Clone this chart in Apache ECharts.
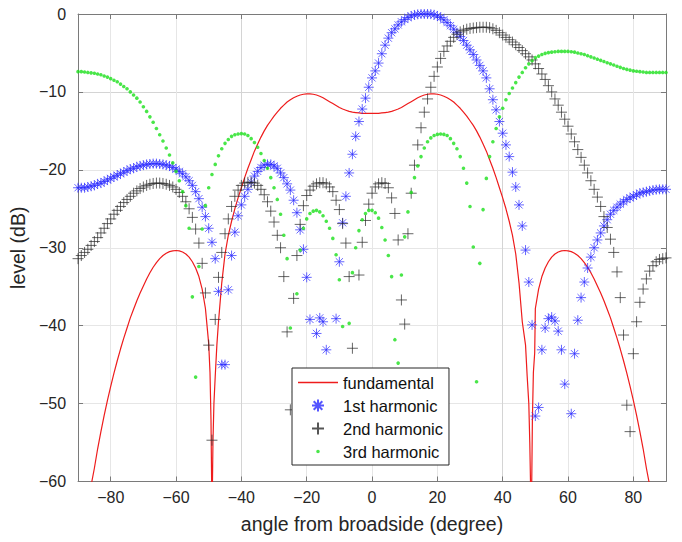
<!DOCTYPE html>
<html><head><meta charset="utf-8">
<script src="https://cdn.jsdelivr.net/npm/echarts@6/dist/echarts.min.js"></script>
<style>html,body{margin:0;padding:0;background:#fff}#c{width:682px;height:542px}</style>
</head><body><div id="c"></div>
<script>
const angles = [-90,-89,-88,-87,-86,-85,-84,-83,-82,-81,-80,-79,-78,-77,-76,-75,-74,-73,-72,-71,-70,-69,-68,-67,-66,-65,-64,-63,-62,-61,-60,-59,-58,-57,-56,-55,-54,-53,-52,-51,-50,-49,-48,-47,-46,-45,-44,-43,-42,-41,-40,-39,-38,-37,-36,-35,-34,-33,-32,-31,-30,-29,-28,-27,-26,-25,-24,-23,-22,-21,-20,-19,-18,-17,-16,-15,-14,-13,-12,-11,-10,-9,-8,-7,-6,-5,-4,-3,-2,-1,0,1,2,3,4,5,6,7,8,9,10,11,12,13,14,15,16,17,18,19,20,21,22,23,24,25,26,27,28,29,30,31,32,33,34,35,36,37,38,39,40,41,42,43,44,45,46,47,48,49,50,51,52,53,54,55,56,57,58,59,60,61,62,63,64,65,66,67,68,69,70,71,72,73,74,75,76,77,78,79,80,81,82,83,84,85,86,87,88,89,90];

const firstHarmonic = [
-22.3,-22.3,-22.3,-22.2,-22.1,-22.0,-21.8,-21.7,-21.5,-21.3,
-21.1,-20.9,-20.7,-20.5,-20.3,-20.1,-19.9,-19.8,-19.6,-19.5,
-19.4,-19.3,-19.25,-19.2,-19.2,-19.25,-19.3,-19.4,-19.5,-19.7,
-19.9,-20.2,-20.5,-20.9,-21.4,-22.0,-22.8,-23.7,-24.8,-26.0,
-27.5,-29.3,-31.4,-35.6,-45.0,-45.0,-35.4,-31.0,-28.0,-25.9,
-24.5,-23.4,-22.5,-21.6,-20.8,-20.2,-19.7,-19.4,-19.3,-19.3,
-19.5,-19.8,-20.4,-21.0,-21.8,-22.6,-23.9,-25.5,-27.7,-30.2,
-33.8,-39.2,-50.0,-41.0,-39.0,-39.5,-43.1,-55.0,-48.0,-39.1,
-31.8,-26.8,-23.4,-20.4,-18.0,-15.7,-13.8,-12.2,-10.8,-9.4,
-8.2,-7.3,-6.3,-5.1,-4.0,-3.1,-2.4,-1.9,-1.4,-1.0,
-0.7,-0.45,-0.25,-0.12,-0.04,0,0,0,-0.02,-0.1,
-0.25,-0.45,-0.75,-1.1,-1.5,-1.95,-2.4,-2.9,-3.4,-4.0,
-4.6,-5.2,-5.9,-6.6,-7.3,-8.2,-9.6,-11.0,-12.3,-13.8,
-15.3,-16.8,-18.3,-20.3,-22.2,-24.5,-27.2,-30.3,-34.4,-39.9,
-51.6,-50.5,-43.1,-40.3,-39.1,-38.9,-39.4,-40.7,-43.1,-47.5,
-62.0,-51.3,-43.6,-39.3,-36.4,-34.4,-32.6,-31.2,-30.0,-29.0,
-28.1,-27.2,-26.4,-25.7,-25.2,-24.8,-24.4,-24.1,-23.8,-23.6,
-23.4,-23.2,-23.0,-22.9,-22.8,-22.7,-22.6,-22.55,-22.5,-22.5,
-22.5];

const secondHarmonic = [
-31.4,-31.0,-30.6,-30.2,-29.7,-29.2,-28.7,-28.1,-27.5,-26.9,
-26.3,-25.7,-25.2,-24.7,-24.2,-23.8,-23.4,-23.0,-22.7,-22.4,
-22.2,-22.0,-21.85,-21.75,-21.7,-21.7,-21.75,-21.85,-22.0,-22.2,
-22.5,-22.9,-23.4,-24.1,-25.0,-26.1,-27.6,-29.4,-32.0,-35.8,
-42.5,-54.7,-39.2,-33.8,-30.6,-28.2,-26.3,-24.7,-23.4,-22.6,
-22.0,-21.7,-21.6,-21.6,-21.7,-22.0,-22.5,-23.2,-24.1,-25.3,
-26.7,-28.4,-30.0,-33.7,-40.8,-50.8,-36.5,-31.0,-27.0,-24.6,
-23.3,-22.6,-22.1,-21.8,-21.65,-21.65,-21.8,-22.2,-22.8,-23.9,
-25.1,-26.9,-29.4,-33.7,-42.9,-55.0,-33.5,-29.3,-26.5,-24.4,
-23.0,-22.2,-21.8,-21.65,-21.75,-22.3,-23.6,-25.6,-29.0,-36.7,
-39.8,-28.2,-23.0,-19.4,-16.8,-14.6,-12.6,-10.9,-9.4,-8.0,
-6.8,-5.7,-4.8,-4.1,-3.5,-3.0,-2.6,-2.3,-2.1,-1.95,
-1.85,-1.8,-1.75,-1.7,-1.7,-1.7,-1.75,-1.9,-2.1,-2.4,
-2.7,-3.0,-3.3,-3.6,-3.95,-4.3,-4.7,-5.1,-5.5,-5.9,
-6.4,-7.0,-7.7,-8.4,-9.2,-10.0,-10.9,-11.7,-12.6,-13.5,
-14.4,-15.4,-16.4,-17.4,-18.4,-19.4,-20.4,-21.4,-22.5,-23.5,
-24.7,-26.0,-27.4,-28.9,-30.6,-33.1,-36.4,-41.2,-50.2,-53.6,
-43.6,-39.5,-37.0,-35.3,-34.0,-33.0,-32.3,-31.8,-31.5,-31.4,
-31.3];

const thirdHarmonic = [
-7.4,-7.4,-7.45,-7.5,-7.55,-7.6,-7.7,-7.8,-7.95,-8.1,
-8.3,-8.5,-8.7,-9.0,-9.3,-9.6,-10.0,-10.4,-10.8,-11.3,
-11.9,-12.5,-13.2,-13.9,-14.7,-15.5,-16.3,-17.2,-18.1,-19.1,
-20.2,-21.4,-22.8,-24.6,-27.5,-36.3,-46.6,-32.4,-27.6,-24.6,
-22.3,-20.6,-19.3,-18.2,-17.3,-16.6,-16.1,-15.7,-15.5,-15.4,
-15.35,-15.4,-15.6,-16.0,-16.5,-17.1,-17.9,-18.8,-19.8,-21.0,
-22.3,-23.8,-25.7,-28.4,-31.4,-40.3,-48.5,-35.9,-30.3,-27.5,
-26.3,-25.6,-25.3,-25.2,-25.4,-25.9,-26.6,-27.5,-28.8,-30.9,
-34.1,-40.1,-48.0,-39.7,-33.2,-30.0,-27.8,-26.4,-25.6,-25.2,
-25.2,-25.5,-26.2,-27.4,-29.0,-31.0,-33.7,-41.8,-44.8,-33.5,
-28.6,-25.4,-22.9,-21.0,-19.5,-18.3,-17.2,-16.4,-15.9,-15.6,
-15.45,-15.4,-15.45,-15.6,-16.0,-16.6,-17.3,-18.3,-19.8,-21.7,
-24.7,-29.9,-47.2,-32.0,-25.1,-21.1,-18.3,-16.4,-14.7,-13.2,
-12.1,-11.0,-10.2,-9.5,-8.8,-8.1,-7.5,-6.9,-6.4,-6.0,
-5.6,-5.4,-5.2,-5.05,-4.95,-4.9,-4.85,-4.8,-4.8,-4.8,
-4.8,-4.85,-4.9,-5.0,-5.1,-5.2,-5.35,-5.5,-5.65,-5.8,
-5.95,-6.1,-6.25,-6.4,-6.55,-6.7,-6.85,-7.0,-7.1,-7.2,
-7.3,-7.35,-7.4,-7.45,-7.5,-7.5,-7.5,-7.5,-7.5,-7.5,
-7.5];

const fundAngles = [-90,-89,-88,-87,-86,-85,-84,-83,-82,-81,-80,-79,-78,-77,-76,-75,-74,-73,-72,-71,-70,-69,-68,-67,-66,-65,-64,-63,-62,-61,-60,-59,-58,-57,-56,-55,-54,-53,-52,-51,-50,-49.6,-49.3,-49.1,-49.0,-48.9,-48.7,-48.4,-48,-47.5,-47,-46,-45,-44,-43,-42,-41,-40,-39,-38,-37,-36,-35,-34,-33,-32,-31,-30,-29,-28,-27,-26,-25,-24,-23,-22,-21,-20,-19,-18,-17,-16,-15,-14,-13,-12,-11,-10,-9,-8,-7,-6,-5,-4,-3,-2,-1,0,1,2,3,4,5,6,7,8,9,10,11,12,13,14,15,16,17,18,19,20,21,22,23,24,25,26,27,28,29,30,31,32,33,34,35,36,37,38,39,40,41,42,43,44,45,46,47,47.5,48,48.3,48.6,48.8,48.9,49.1,49.4,49.8,50,51,52,53,54,55,56,57,58,59,60,61,62,63,64,65,66,67,68,69,70,71,72,73,74,75,76,77,78,79,80,81,82,83,84,85,86,87,88,89,90];
const fundLevels = [-78,-71,-66,-62.5,-60.5,-58.3,-55.8,-53.6,-51.5,-49.6,-47.8,-46.1,-44.5,-43.0,-41.6,-40.3,-39.0,-37.9,-36.8,-35.8,-34.9,-34.0,-33.2,-32.5,-31.9,-31.4,-31.0,-30.7,-30.5,-30.4,-30.35,-30.4,-30.55,-30.8,-31.2,-31.8,-32.6,-33.7,-35.3,-37.8,-42.3,-46,-52,-60,-75,-62,-55,-50,-46.5,-42.5,-39.5,-34.5,-30.8,-28.4,-26.6,-25.0,-23.6,-22.3,-21.0,-19.8,-18.7,-17.6,-16.7,-15.8,-15.0,-14.3,-13.7,-13.1,-12.6,-12.1,-11.7,-11.3,-11.0,-10.75,-10.55,-10.4,-10.3,-10.25,-10.25,-10.3,-10.4,-10.55,-10.75,-11.0,-11.25,-11.5,-11.75,-12.0,-12.2,-12.35,-12.5,-12.6,-12.65,-12.7,-12.75,-12.75,-12.75,-12.75,-12.75,-12.75,-12.7,-12.65,-12.6,-12.5,-12.35,-12.2,-12.0,-11.75,-11.5,-11.25,-11.0,-10.75,-10.55,-10.4,-10.3,-10.25,-10.25,-10.3,-10.4,-10.55,-10.75,-11.0,-11.3,-11.7,-12.1,-12.6,-13.1,-13.7,-14.3,-15.0,-15.8,-16.7,-17.6,-18.7,-19.8,-21.0,-22.3,-23.6,-25.0,-26.6,-28.4,-30.8,-34.5,-39.5,-42.5,-46.5,-50,-55,-62,-75,-60,-52,-46,-43.5,-37.8,-35.3,-33.7,-32.6,-31.8,-31.2,-30.8,-30.55,-30.4,-30.35,-30.4,-30.5,-30.7,-31.0,-31.4,-31.9,-32.5,-33.2,-34.0,-34.9,-35.8,-36.8,-37.9,-39.0,-40.3,-41.6,-43.0,-44.5,-46.1,-47.8,-49.6,-51.5,-53.6,-55.8,-58.3,-60.5,-62.5,-66,-71,-78];

const xTickValues = [-80,-60,-40,-20,0,20,40,60,80];
const yTickValues = [-60,-50,-40,-30,-20,-10,0];
const seriesNames = ['fundamental','1st harmonic','2nd harmonic','3rd harmonic'];

const pair = (xs, ys) => xs.map((x, i) => [x, ys[i]]);
const minusFmt = v => (v < 0 ? '\u2212' + Math.abs(v) : String(v));
const FONT = '"Liberation Sans", Arial, Helvetica, sans-serif';
const ASTER = 'path://M0,-5L0,5M-5,0L5,0M-3.6,-3.6L3.6,3.6M-3.6,3.6L3.6,-3.6';
const PLUS = 'path://M0,-5L0,5M-5,0L5,0';
const LINE_ICON = 'path://M0,0L40,0L40,1.3L0,1.3Z';
const DOT_ICON = 'path://M-6,-6L-6,-6M6,6L6,6M1.8,0A1.8,1.8 0 1,1 -1.8,0A1.8,1.8 0 1,1 1.8,0Z';
const MAJOR = '#d4d4d4', MINOR = '#e6e6e6', BOX = '#7a7a7a', TXT = '#262626';

const chart = echarts.init(document.getElementById('c'), null, {renderer: 'svg'});
const baseX = {
  type: 'value', min: -90, max: 90, interval: 5,
  axisLine: {show: true, onZero: false, lineStyle: {color: BOX, width: 1}},
  axisTick: {show: true, inside: true, length: 5, customValues: xTickValues, lineStyle: {color: BOX}},
};
const baseY = {
  type: 'value', min: -60, max: 0, interval: 2,
  axisLine: {show: true, onZero: false, lineStyle: {color: BOX, width: 1}},
  axisTick: {show: true, inside: true, length: 5, customValues: yTickValues, lineStyle: {color: BOX}},
};
chart.setOption({
  animation: false,
  backgroundColor: '#fff',
  textStyle: {fontFamily: FONT},
  grid: {left: 75.5, top: 14, width: 590.5, height: 467.5, containLabel: false},
  xAxis: [
    Object.assign({}, baseX, {
      position: 'bottom',
      name: 'angle from broadside (degree)', nameLocation: 'middle', nameGap: 32,
      nameTextStyle: {fontSize: 19.5, color: TXT, fontFamily: FONT},
      axisLabel: {customValues: xTickValues, formatter: minusFmt, fontSize: 16, color: TXT, margin: 8, fontFamily: FONT},
      splitLine: {show: true, lineStyle: {color: [MINOR, MINOR, MAJOR, MINOR], width: 1}}
    }),
    Object.assign({}, baseX, {position: 'top', axisLabel: {show: false}, splitLine: {show: false}})
  ],
  yAxis: [
    Object.assign({}, baseY, {
      position: 'left',
      name: 'level (dB)', nameLocation: 'middle', nameGap: 39, nameRotate: 90,
      nameTextStyle: {fontSize: 19.5, color: TXT, fontFamily: FONT},
      axisLabel: {customValues: yTickValues, formatter: minusFmt, fontSize: 16, color: TXT, margin: 12, fontFamily: FONT},
      splitLine: {show: true, lineStyle: {color: [MAJOR, MINOR, MINOR, MINOR, MINOR], width: 1}}
    }),
    Object.assign({}, baseY, {position: 'right', axisLabel: {show: false}, splitLine: {show: false}})
  ],
  legend: {
    data: [
      {name: seriesNames[0], icon: LINE_ICON},
      {name: seriesNames[1]},
      {name: seriesNames[2]},
      {name: seriesNames[3], icon: DOT_ICON}
    ],
    orient: 'vertical', left: 292, top: 368,
    padding: [6, 6, 5, 6], itemGap: 6, itemWidth: 40, itemHeight: 12,
    backgroundColor: '#fff', borderColor: '#262626', borderWidth: 1, borderRadius: 0,
    textStyle: {fontSize: 16.5, color: '#111', fontFamily: FONT},
    selectedMode: false, z: 10
  },
  series: [
    {name: seriesNames[0], type: 'line', data: pair(fundAngles, fundLevels), symbol: 'none', showSymbol: false,
     lineStyle: {color: '#ee1c1c', width: 1.2}, itemStyle: {color: '#ee1c1c'}, clip: true, z: 3, silent: true},
    {name: seriesNames[1], type: 'scatter', data: pair(angles, firstHarmonic), symbol: ASTER, symbolSize: 10,
     itemStyle: {color: 'none', borderColor: '#2a2aff', borderWidth: 0.9}, clip: true, z: 4, silent: true},
    {name: seriesNames[2], type: 'scatter', data: pair(angles, secondHarmonic), symbol: PLUS, symbolSize: 11,
     itemStyle: {color: 'none', borderColor: '#2a2a2a', borderWidth: 0.9}, clip: true, z: 4, silent: true},
    {name: seriesNames[3], type: 'scatter', data: pair(angles, thirdHarmonic), symbol: 'circle', symbolSize: 3.6,
     itemStyle: {color: '#1be01b'}, clip: true, z: 4, silent: true}
  ]
});
</script>
</body></html>
